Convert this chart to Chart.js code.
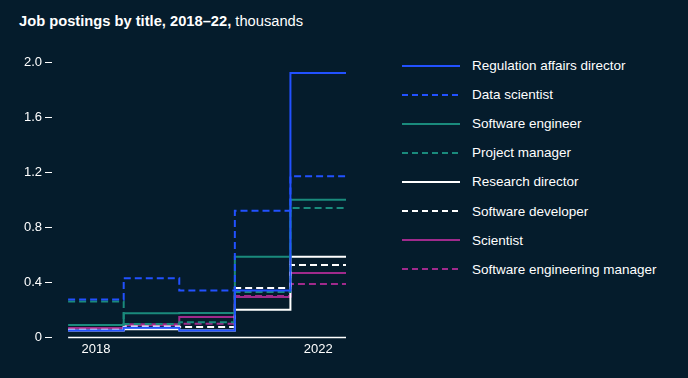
<!DOCTYPE html>
<html>
<head>
<meta charset="utf-8">
<script src="https://cdn.jsdelivr.net/npm/chart.js@4.4.1/dist/chart.umd.min.js"></script>
<style>
  html, body { margin: 0; padding: 0; background: #051C2C; }
  body { width: 688px; height: 378px; position: relative; overflow: hidden; font-family: "Liberation Sans", Arial, sans-serif; color: #fff; }
  #title { position: absolute; left: 19px; top: 13px; font-size: 14.7px; color: #fff; white-space: nowrap; }
  #title b { font-weight: bold; }
  #wrap { position: absolute; left: 0; top: 0; width: 362px; height: 378px; }
  #legend { position: absolute; left: 402px; top: 51px; }
  .row { height: 29.1px; display: flex; align-items: center; font-size: 13.5px; white-space: nowrap; }
  .row svg { width: 58px; height: 4px; margin-right: 12px; }
</style>
</head>
<body>
<div id="title"><b>Job postings by title, 2018–22,</b> thousands</div>
<div id="wrap"><canvas id="c"></canvas></div>
<div id="legend"></div>
<script>
const years = [2018, 2019, 2020, 2021, 2022];
const xTickLabels = [2018, 2022];
const yTicks = [0, 0.4, 0.8, 1.2, 1.6, 2.0];

const seriesNames = [
  "Regulation affairs director",
  "Data scientist",
  "Software engineer",
  "Project manager",
  "Research director",
  "Software developer",
  "Scientist",
  "Software engineering manager"
];
const regulationAffairsDirector = [0.05, 0.07, 0.05, 0.34, 1.92];
const dataScientist            = [0.275, 0.43, 0.34, 0.92, 1.17];
const softwareEngineer         = [0.09, 0.175, 0.177, 0.585, 1.0];
const projectManager           = [0.26, 0.097, 0.11, 0.33, 0.94];
const researchDirector         = [0.05, 0.06, 0.05, 0.2, 0.585];
const softwareDeveloper        = [0.056, 0.08, 0.075, 0.358, 0.526];
const scientist                = [0.068, 0.09, 0.148, 0.293, 0.468];
const softwareEngineeringMgr   = [0.06, 0.095, 0.1, 0.3, 0.388];

const seriesValues = [regulationAffairsDirector, dataScientist, softwareEngineer, projectManager,
  researchDirector, softwareDeveloper, scientist, softwareEngineeringMgr];
const seriesColors = ["#2251FF", "#2251FF", "#1A8A7C", "#1A8A7C", "#FFFFFF", "#FFFFFF", "#A02A8C", "#A02A8C"];
const seriesDashed = [false, true, false, true, false, true, false, true];
const DASH = [7, 4];

function stepPoints(vals) {
  const pts = years.map((y, i) => ({ x: y - 0.5, y: vals[i] }));
  pts.push({ x: years[years.length - 1] + 0.5, y: vals[vals.length - 1] });
  return pts;
}

const datasets = seriesNames.map((name, i) => ({
  label: name,
  data: stepPoints(seriesValues[i]),
  borderColor: seriesColors[i],
  backgroundColor: seriesColors[i],
  borderWidth: 2,
  borderDash: seriesDashed[i] ? DASH : [],
  stepped: 'before',
  pointRadius: 0,
  fill: false
}));

const baseline = {
  id: 'baseline',
  afterDatasetsDraw(chart) {
    const { ctx, scales: { x, y } } = chart;
    const y0 = Math.round(y.getPixelForValue(0)) + 0.5;
    ctx.save();
    ctx.strokeStyle = '#FFFFFF';
    ctx.lineWidth = 1.5;
    ctx.beginPath();
    ctx.moveTo(x.getPixelForValue(years[0] - 0.5), y0);
    ctx.lineTo(x.getPixelForValue(years[years.length - 1] + 0.5), y0);
    ctx.stroke();
    ctx.restore();
  }
};

Chart.defaults.font.family = '"Liberation Sans", Arial, sans-serif';
Chart.defaults.font.size = 13;
Chart.defaults.color = '#FFFFFF';

new Chart(document.getElementById('c'), {
  type: 'line',
  data: { datasets },
  options: {
    responsive: true,
    maintainAspectRatio: false,
    animation: false,
    layout: { padding: { top: 62, right: 16, bottom: 17, left: 0 } },
    plugins: { legend: { display: false }, tooltip: { enabled: false } },
    scales: {
      x: {
        type: 'linear',
        min: 2017.21,
        max: 2022.5,
        afterBuildTicks: s => { s.ticks = xTickLabels.map(v => ({ value: v })); },
        ticks: { color: '#FFFFFF', padding: 4, maxRotation: 0, callback: v => String(v) },
        grid: { display: false, drawTicks: false },
        border: { display: false }
      },
      y: {
        min: 0,
        max: 2.0,
        afterBuildTicks: s => { s.ticks = yTicks.map(v => ({ value: v })); },
        afterFit: s => { s.width = 52; },
        ticks: { color: '#FFFFFF', padding: 3, callback: v => v === 0 ? '0' : v.toFixed(1) },
        grid: { drawOnChartArea: false, drawTicks: true, tickLength: 7, tickColor: '#FFFFFF', tickWidth: 1 },
        border: { display: false }
      }
    }
  },
  plugins: [baseline]
});

const legend = document.getElementById('legend');
seriesNames.forEach((name, i) => {
  const row = document.createElement('div');
  row.className = 'row';
  const dash = seriesDashed[i] ? 'stroke-dasharray="6 4"' : '';
  row.innerHTML = `<svg viewBox="0 0 58 4"><line x1="0" y1="2" x2="58" y2="2" stroke="${seriesColors[i]}" stroke-width="2" ${dash}/></svg><span>${name}</span>`;
  legend.appendChild(row);
});
</script>
</body>
</html>
